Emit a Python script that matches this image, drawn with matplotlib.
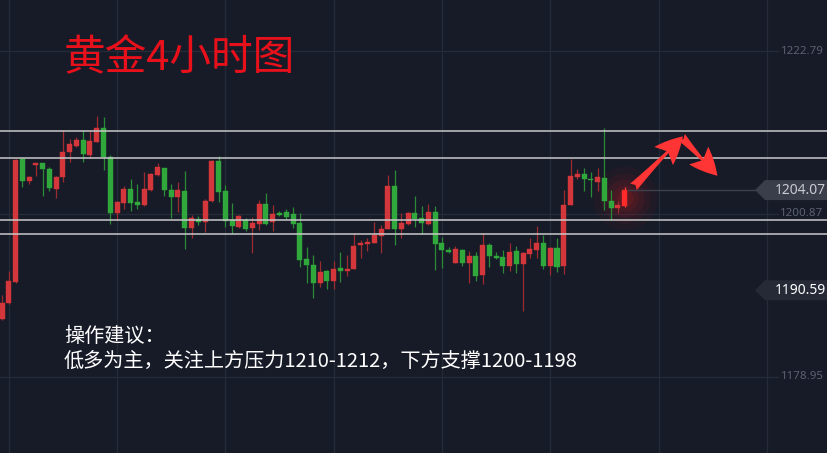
import matplotlib
matplotlib.use("Agg")
import matplotlib.pyplot as plt
from matplotlib.patches import Polygon
import numpy as np

plt.rcParams['font.family'] = ['Noto Sans CJK SC', 'DejaVu Sans']

opens = [1186.67, 1188.83, 1191.66, 1208.25, 1205.33, 1207.45, 1207.67, 1206.95, 1204.17, 1205.79,
         1209.15, 1210.04, 1210.81, 1208.75, 1210.58, 1212.47, 1208.56, 1200.94, 1202.29, 1204.17,
         1202.42, 1202.02, 1204.04, 1206.10, 1207.00, 1204.12, 1203.10, 1203.99, 1198.92, 1200.22,
         1199.73, 1202.56, 1207.94, 1203.90, 1200.04, 1199.14, 1200.04, 1198.92, 1199.50, 1202.15,
         1199.73, 1200.94, 1201.08, 1200.81, 1199.60, 1194.75, 1194.02, 1191.52, 1193.22, 1191.83,
         1193.54, 1193.22, 1193.40, 1196.64, 1196.85, 1196.94, 1197.89, 1198.83, 1204.66, 1198.79,
         1199.46, 1201.02, 1200.35, 1199.50, 1201.16, 1196.99, 1196.00, 1194.21, 1195.96, 1194.21,
         1195.24, 1192.60, 1196.72, 1195.24, 1195.00, 1193.85, 1195.91, 1194.12, 1195.42, 1196.00,
         1196.90, 1193.89, 1196.27, 1193.85, 1202.02, 1205.87, 1206.19, 1205.60, 1205.20, 1205.73,
         1202.64, 1201.62, 1201.92]
closes = [1188.91, 1191.87, 1208.12, 1205.25, 1205.87, 1207.67, 1206.87, 1204.31, 1205.87, 1209.23,
          1210.23, 1210.85, 1208.89, 1210.72, 1212.47, 1208.48, 1200.94, 1202.50, 1204.17, 1202.29,
          1202.02, 1204.17, 1206.19, 1207.13, 1204.08, 1203.10, 1204.08, 1198.92, 1200.35, 1199.73,
          1202.60, 1207.98, 1203.77, 1199.87, 1199.19, 1200.58, 1198.87, 1199.60, 1202.15, 1199.50,
          1200.81, 1200.67, 1200.49, 1199.50, 1194.62, 1193.94, 1191.52, 1193.08, 1191.83, 1193.49,
          1193.22, 1193.49, 1196.58, 1196.90, 1197.08, 1198.02, 1198.83, 1204.66, 1198.83, 1199.60,
          1201.02, 1200.22, 1199.60, 1201.16, 1196.81, 1196.00, 1195.73, 1196.10, 1194.21, 1195.24,
          1192.50, 1196.72, 1195.16, 1194.88, 1193.82, 1195.77, 1194.12, 1195.56, 1196.10, 1196.90,
          1193.89, 1196.27, 1193.76, 1202.10, 1206.00, 1206.23, 1205.52, 1205.39, 1205.79, 1202.60,
          1201.62, 1202.02, 1204.07]
highs = [1189.94, 1193.18, 1208.25, 1208.35, 1205.97, 1207.76, 1207.71, 1207.13, 1205.97, 1212.16,
         1210.94, 1211.17, 1212.16, 1212.16, 1214.04, 1213.91, 1208.79, 1202.60, 1204.62, 1205.56,
         1204.89, 1206.50, 1206.33, 1207.76, 1207.10, 1204.89, 1205.16, 1206.64, 1200.67, 1200.54,
         1202.87, 1208.12, 1208.66, 1204.75, 1202.33, 1200.70, 1200.31, 1200.45, 1202.73, 1203.67,
         1202.06, 1201.21, 1201.52, 1201.79, 1200.98, 1196.41, 1195.33, 1194.52, 1193.31, 1194.52,
         1195.73, 1195.33, 1198.29, 1197.35, 1197.62, 1199.81, 1199.37, 1206.10, 1206.77, 1200.94,
         1201.16, 1203.27, 1201.93, 1202.20, 1201.93, 1197.71, 1196.36, 1196.50, 1196.14, 1195.87,
         1195.69, 1198.29, 1196.94, 1195.73, 1196.00, 1196.90, 1196.54, 1195.77, 1197.58, 1199.23,
         1198.02, 1196.45, 1197.66, 1204.08, 1208.25, 1206.87, 1207.08, 1206.54, 1207.08, 1212.47,
         1204.08, 1202.60, 1204.44]
lows = [1186.58, 1188.73, 1191.56, 1204.52, 1204.89, 1206.00, 1203.31, 1203.99, 1203.04, 1205.20,
        1207.89, 1209.91, 1207.89, 1208.43, 1210.50, 1206.77, 1199.54, 1200.04, 1201.56, 1201.29,
        1201.52, 1201.92, 1203.95, 1205.97, 1203.31, 1200.35, 1201.16, 1196.18, 1197.66, 1199.41,
        1198.47, 1202.46, 1202.46, 1199.14, 1198.16, 1199.03, 1198.60, 1195.64, 1198.69, 1199.37,
        1198.60, 1200.54, 1200.13, 1199.00, 1193.76, 1191.60, 1189.58, 1191.06, 1190.79, 1190.79,
        1191.74, 1192.50, 1193.40, 1194.97, 1195.91, 1196.90, 1195.64, 1198.83, 1196.68, 1197.66,
        1199.37, 1199.14, 1198.16, 1199.37, 1193.31, 1193.62, 1195.60, 1194.21, 1193.85, 1191.60,
        1191.83, 1191.43, 1193.67, 1194.79, 1192.95, 1193.22, 1192.95, 1187.79, 1194.97, 1194.97,
        1193.40, 1192.64, 1193.08, 1192.77, 1202.02, 1205.60, 1203.99, 1203.14, 1203.99, 1201.39,
        1200.04, 1201.02, 1201.83]

level_lines = [1212.0, 1208.35, 1200.0, 1198.1]
axis_ticks = [1222.79, 1200.87, 1178.95]
axis_labels = ["1222.79", "1200.87", "1178.95"]
last_price = 1204.07
marker_price = 1190.59

title = "黄金4小时图"
note_1 = "操作建议："
note_2 = "低多为主，关注上方压力1210-1212，下方支撑1200-1198"

BG = '#171b28'
GRID = '#262b3a'
UP = '#d3373b'
DOWN = '#31a83c'
UP_W = '#9c2b31'
DOWN_W = '#2a8a35'

W, H = 828, 453
fig = plt.figure(figsize=(W / 100, H / 100), dpi=100, facecolor=BG)
ax = fig.add_axes([0, 0, 1, 1], facecolor=BG)
ax.set_xlim(-0.2955, 122.04)
ax.set_ylim(1168.68, 1229.655)
ax.axis('off')

px_per_x = 6.768
xfrac = lambda px: px / W

# grid
for gx in [1, 17, 33, 49, 65, 81, 97, 113]:
    ax.axvline(gx, color=GRID, lw=0.9, zorder=0)
for t in axis_ticks:
    ax.axhline(t, xmin=0, xmax=xfrac(778), color=GRID, lw=0.9, zorder=0)

# candles
n = len(opens)
x = np.arange(n)
o = np.array(opens); c = np.array(closes); h = np.array(highs); l = np.array(lows)
up = c >= o
for i in range(n):
    col = UP if up[i] else DOWN
    wcol = UP_W if up[i] else DOWN_W
    if i == n - 1:
        col = '#ff2a2a'; wcol = '#ff3a3a'
    ax.vlines(x[i], l[i], h[i], color=wcol, lw=0.9, zorder=2)
    bot = min(o[i], c[i])
    ht = max(abs(c[i] - o[i]), 0.2)
    ax.bar(x[i], ht, bottom=bot, width=0.74, color=col, edgecolor=col, lw=0.3, zorder=3)

# glow around last candle
for r, a in [(32, 0.04), (25, 0.05), (19, 0.07), (13, 0.09), (8, 0.11)]:
    ax.scatter([x[-1]], [(o[-1] + c[-1]) / 2], s=(2 * r / 1.389) ** 2, color='#ff1a1a',
               alpha=a, lw=0, zorder=1)

# horizontal level lines
for lv in level_lines:
    ax.axhline(lv, color='#c9c9c9', lw=1.1, zorder=4)

# last price line
ax.plot([x[-1] + 0.5, 755 / px_per_x], [last_price, last_price], color='#3d414e', lw=1.0, zorder=1)

# axis labels
trans = ax.get_yaxis_transform()
for t, lab in zip(axis_ticks, axis_labels):
    ax.text(xfrac(802), t, lab, transform=trans, ha='center', va='center',
            fontsize=8.3, color='#5c6170', family=['Noto Sans', 'DejaVu Sans'], zorder=6)

def tag(price, face, tcolor):
    hh = 10 * 0.13461
    pts = [(xfrac(755), price), (xfrac(765), price + hh), (1.0, price + hh),
           (1.0, price - hh), (xfrac(765), price - hh)]
    ax.add_patch(Polygon(pts, closed=True, transform=trans, facecolor=face,
                         edgecolor='none', zorder=7))
    ax.text(xfrac(800), price, f"{price:.2f}", transform=trans, ha='center', va='center',
            fontsize=10, color=tcolor, family=['Noto Sans', 'DejaVu Sans'], zorder=8)

tag(last_price, '#3a3e4a', '#c9cbd1')
tag(marker_price, '#252a36', '#ffffff')

# arrows
arrow_kw = dict(arrowstyle='fancy,head_length=0.9,head_width=0.85,tail_width=0.3',
                color='#ff3434', lw=0, mutation_scale=22, shrinkA=0, shrinkB=0)
ax.annotate('', xy=(100.6, 1211.3), xytext=(93.3, 1204.5),
            arrowprops=arrow_kw, zorder=9)
ax.annotate('', xy=(105.7, 1206.0), xytext=(100.4, 1211.2),
            arrowprops=arrow_kw, zorder=9)

# texts
fig.text(xfrac(64), 1 - 59 / H, title, ha='left', va='center', fontsize=30,
         color='#e8101a', family=['Noto Sans CJK SC', 'DejaVu Sans'])
fig.text(xfrac(64), 1 - 336 / H, note_1, ha='left', va='center', fontsize=14.5,
         color='#ffffff', family=['Noto Sans CJK SC', 'DejaVu Sans'])
fig.text(xfrac(64), 1 - 361 / H, note_2, ha='left', va='center', fontsize=14.5,
         color='#ffffff', family=['Noto Sans CJK SC', 'DejaVu Sans'])

fig.savefig('out.png', dpi=100, facecolor=BG)
